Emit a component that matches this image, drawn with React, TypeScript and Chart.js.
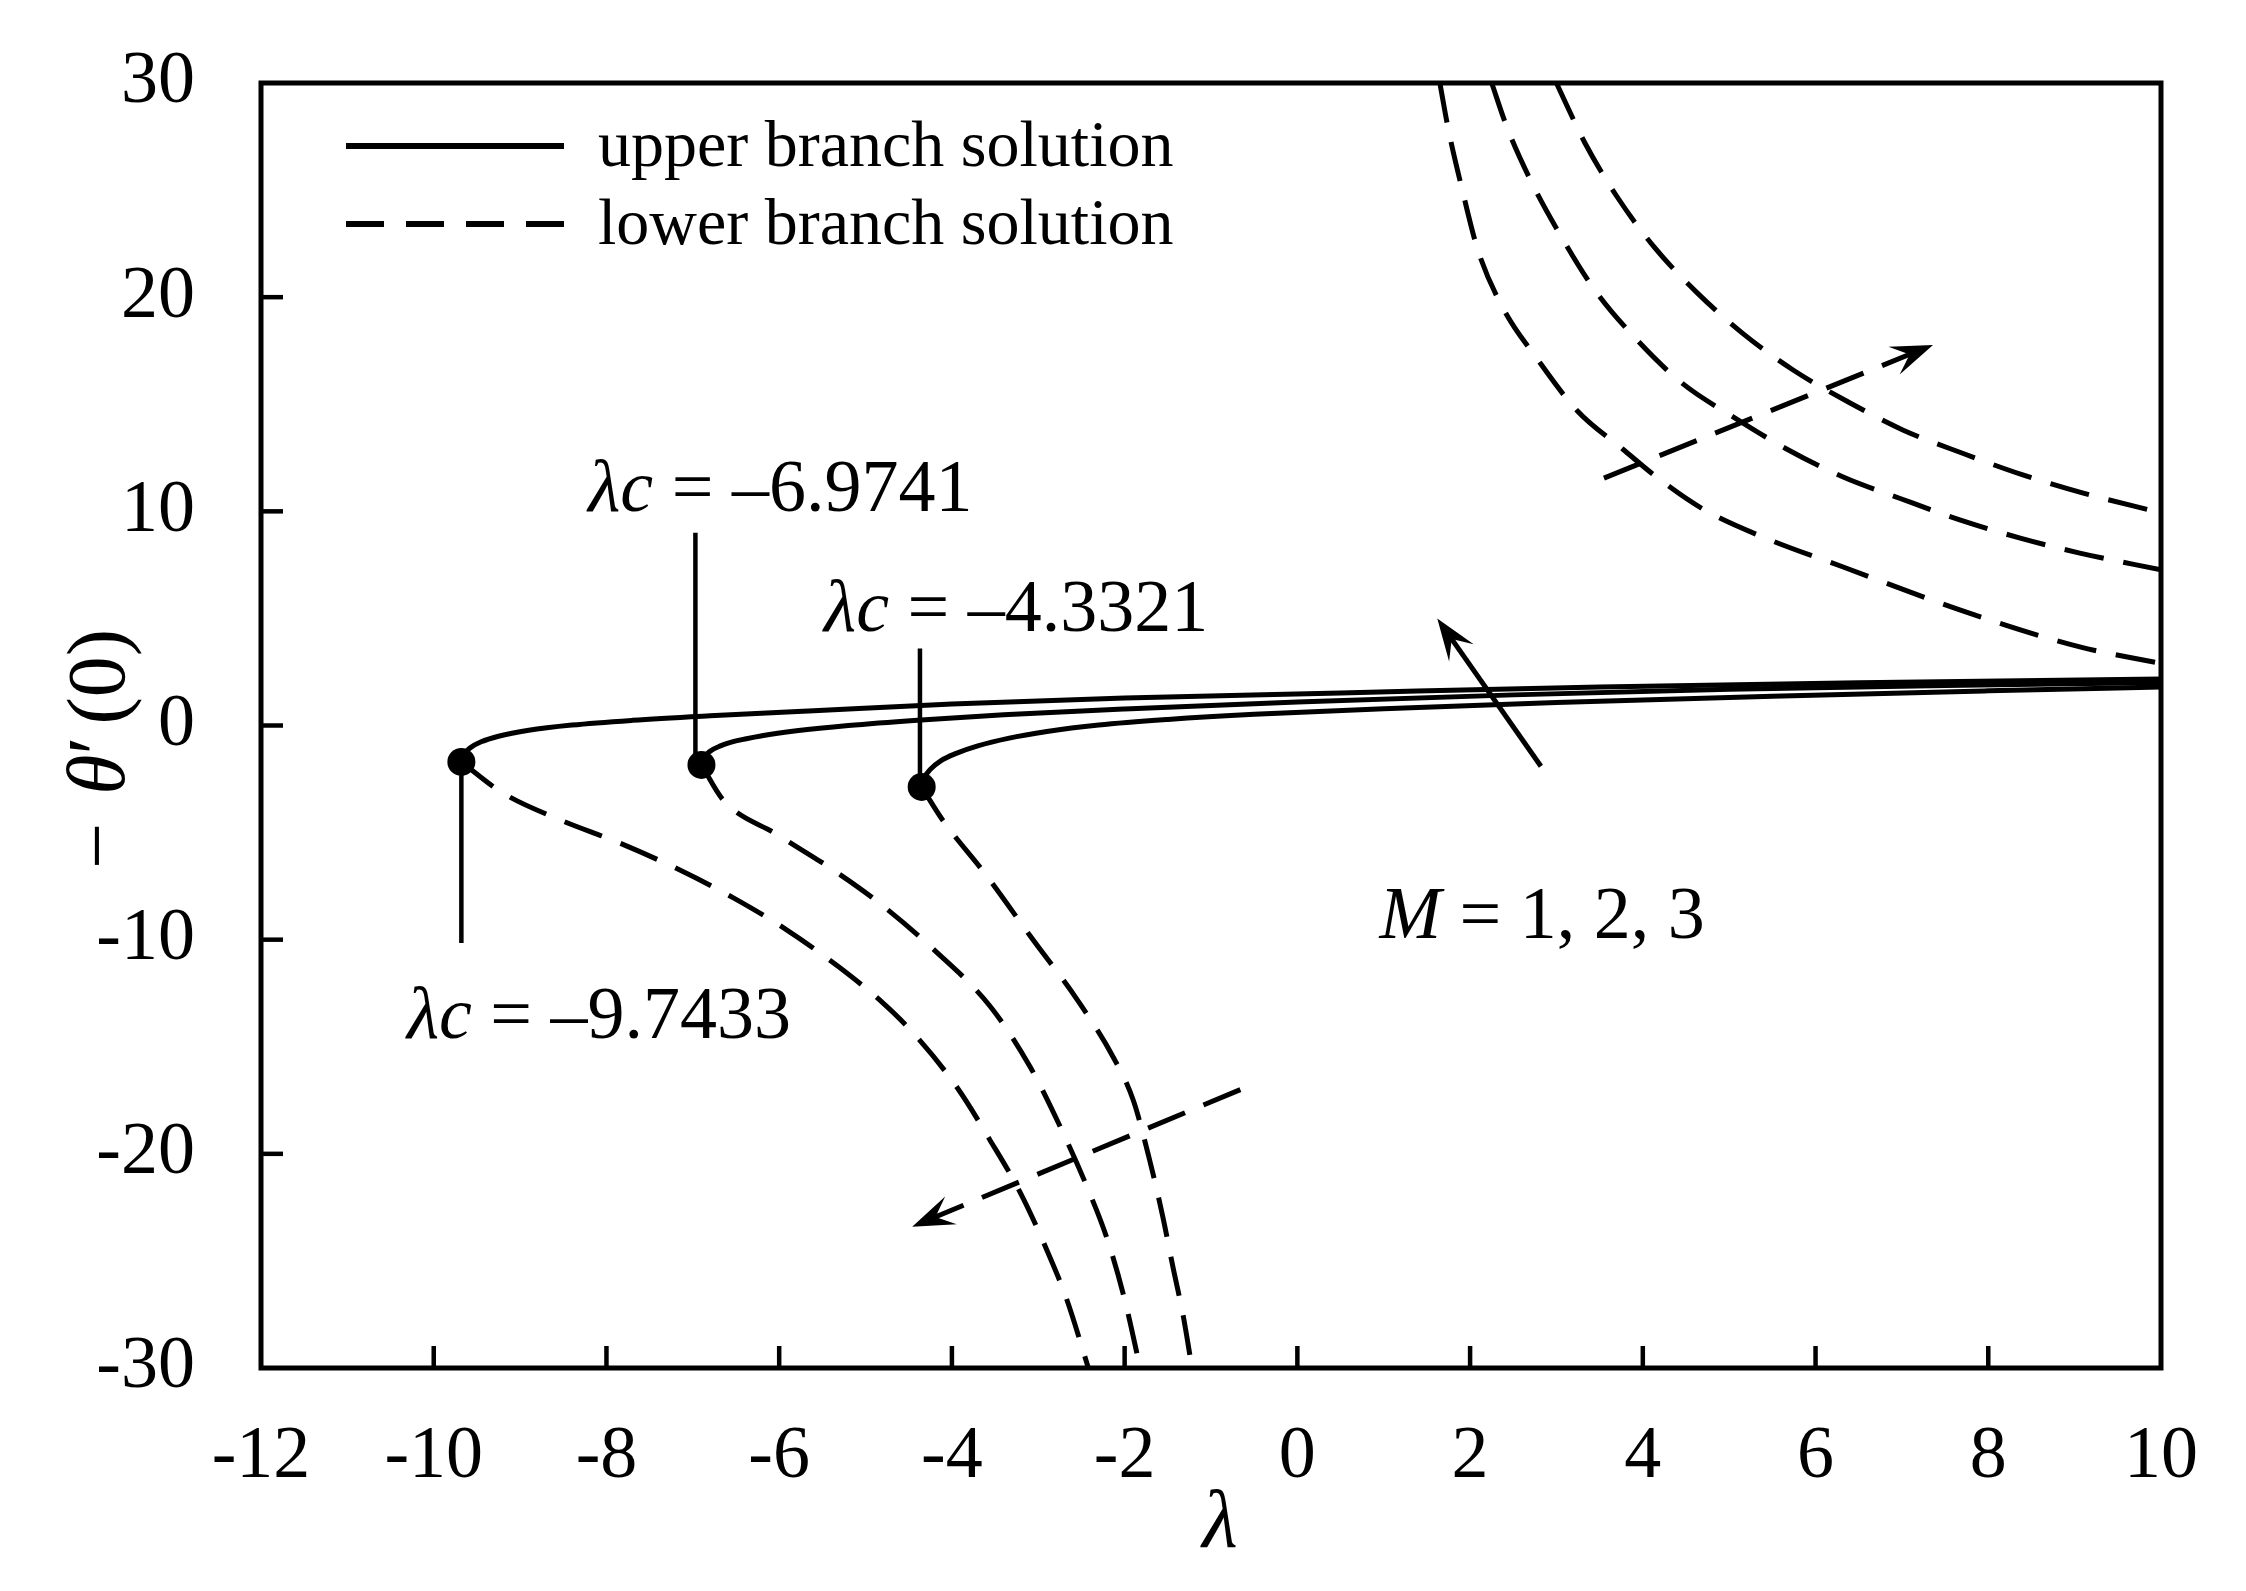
import React, { useEffect, useRef } from 'react';
import { Chart, registerables } from 'chart.js';

Chart.register(...registerables);

// ---- tick labels ----
const xTickValues = [-12, -10, -8, -6, -4, -2, 0, 2, 4, 6, 8, 10];
const yTickValues = [-30, -20, -10, 0, 10, 20, 30];

// ---- upper branch solutions (solid) ----
const upperM1X = [-4.35, -4.32, -4.25, -4.13, -3.95, -3.7, -3.35, -2.9, -2.3, -1.5, -0.5, 1, 3, 5.5, 8, 10];
const upperM1Y = [-2.87, -2.45, -2.05, -1.65, -1.3, -0.95, -0.6, -0.28, 0.02, 0.28, 0.52, 0.78, 1.07, 1.37, 1.62, 1.8];

const upperM2X = [-6.9, -6.87, -6.8, -6.68, -6.5, -6.2, -5.8, -5.2, -4.4, -3.4, -2, 0, 2.5, 5, 7.5, 10];
const upperM2Y = [-1.84, -1.5, -1.2, -0.95, -0.72, -0.48, -0.25, 0.0, 0.25, 0.5, 0.77, 1.1, 1.43, 1.69, 1.87, 2.0];

const upperM3X = [-9.68, -9.65, -9.58, -9.45, -9.25, -8.9, -8.4, -7.7, -6.8, -5.6, -4, -2, 0.5, 3.5, 6.5, 10];
const upperM3Y = [-1.7, -1.35, -1.05, -0.76, -0.5, -0.22, 0.02, 0.24, 0.45, 0.69, 1.0, 1.28, 1.52, 1.8, 2.0, 2.17];

// ---- lower branch solutions (dashed), negative lambda part ----
const lowerM1X = [-4.35, -4.11, -3.62, -3.08, -2.55, -2.13, -1.9, -1.71, -1.56, -1.44, -1.32, -1.22];
const lowerM1Y = [-2.87, -4.4, -6.9, -9.9, -12.8, -15.5, -17.5, -20.3, -22.9, -25.3, -27.6, -30];

const lowerM2X = [-6.9, -6.65, -6.02, -5.41, -4.87, -4.2, -3.56, -3.1, -2.75, -2.44, -2.2, -2.0, -1.82];
const lowerM2Y = [-1.84, -3.47, -5.1, -6.65, -8.2, -10.5, -13.1, -15.9, -18.7, -21.5, -24.0, -26.8, -30];

const lowerM3X = [-9.68, -9.2, -8.54, -7.84, -7.15, -6.53, -5.91, -5.3, -4.8, -4.45, -3.94, -3.56, -3.21, -2.9, -2.67, -2.42];
const lowerM3Y = [-1.7, -3.15, -4.4, -5.5, -6.75, -8.05, -9.55, -11.3, -12.95, -14.35, -16.9, -19.35, -21.8, -24.5, -26.8, -30];

// ---- lower branch solutions (dashed), positive lambda part ----
const posM1X = [1.65, 1.75, 1.91, 2.09, 2.38, 2.78, 3.24, 3.77, 4.16, 4.7, 5.39, 6.32, 7.67, 9.06, 10];
const posM1Y = [30, 27.8, 25.0, 22.2, 19.5, 17.1, 14.7, 12.9, 11.6, 10.1, 8.8, 7.4, 5.4, 3.67, 2.9];

const posM2X = [2.25, 2.43, 2.72, 3.06, 3.45, 3.91, 4.45, 5.05, 5.67, 6.32, 6.98, 7.67, 8.37, 9.06, 10];
const posM2Y = [30, 27.9, 25.3, 22.8, 20.3, 18.1, 16.0, 14.4, 12.9, 11.6, 10.6, 9.6, 8.75, 8.05, 7.27];

const posM3X = [3.0, 3.08, 3.33, 3.7, 4.14, 4.63, 5.16, 5.74, 6.4, 7.01, 7.71, 8.4, 9.1, 10];
const posM3Y = [30, 29.3, 27.2, 24.7, 22.3, 20.2, 18.3, 16.6, 15.06, 13.8, 12.7, 11.7, 10.85, 9.93];

// ---- critical points ----
const criticalX = [-9.68, -6.9, -4.35];
const criticalY = [-1.7, -1.84, -2.87];
const criticalLabels = ['–9.7433', '–6.9741', '–4.3321'];

// ---- leader lines (data coords) ----
const leaderX = [-9.68, -6.97, -4.37];
const leaderYFrom = [-1.7, 9.0, 3.6];
const leaderYTo = [-10.15, -1.84, -2.87];

// ---- label anchors (left x, baseline y) in data coords ----
const labelAnchorX = [-10.31, -8.21, -5.48];
const labelAnchorY = [-14.58, 10.02, 4.42];
const mLabel = 'M';
const mValues = ' = 1, 2, 3';
const mAnchor = [0.95, -9.92];

// ---- arrows (data coords): [x1, y1, x2, y2] ----
const arrowSolid = [2.82, -1.9, 1.62, 5.0];
const arrowUpRight = [3.55, 11.55, 7.36, 17.77];
const arrowDownLeft = [-0.66, -17.0, -4.46, -23.4];

const legendLabels = ['upper branch solution', 'lower branch solution'];

const FONT = '"Liberation Serif", "Times New Roman", serif';
const DASH = [40, 20];

function pts(xs: number[], ys: number[]) {
  return xs.map((x, i) => ({ x, y: ys[i] }));
}

function lineDs(xs: number[], ys: number[], dashed: boolean) {
  return {
    data: pts(xs, ys),
    borderColor: '#000',
    backgroundColor: '#000',
    borderWidth: 5,
    borderDash: dashed ? DASH : [],
    pointRadius: 0,
    cubicInterpolationMode: 'monotone',
    fill: false,
    showLine: true,
  };
}

function drawRich(ctx: CanvasRenderingContext2D, parts: { t: string; it: boolean; gap?: number }[], x: number, y: number, size: number) {
  let cx = x;
  for (const p of parts) {
    cx += p.gap || 0;
    ctx.font = `${p.it ? 'italic ' : ''}${size}px ${FONT}`;
    ctx.fillText(p.t, cx, y);
    cx += ctx.measureText(p.t).width;
  }
}

function drawArrow(ctx: CanvasRenderingContext2D, x1: number, y1: number, x2: number, y2: number, dashed: boolean) {
  const dx = x2 - x1, dy = y2 - y1;
  const len = Math.hypot(dx, dy);
  const ux = dx / len, uy = dy / len;
  const nx = -uy, ny = ux;
  const headLen = 42, w = 15;
  ctx.save();
  ctx.strokeStyle = '#000';
  ctx.fillStyle = '#000';
  ctx.lineWidth = 5;
  ctx.setLineDash(dashed ? DASH : []);
  ctx.beginPath();
  ctx.moveTo(x1, y1);
  ctx.lineTo(x2 - ux * headLen * 0.5, y2 - uy * headLen * 0.5);
  ctx.stroke();
  ctx.setLineDash([]);
  ctx.beginPath();
  ctx.moveTo(x2, y2);
  ctx.lineTo(x2 - ux * headLen + nx * w, y2 - uy * headLen + ny * w);
  ctx.lineTo(x2 - ux * headLen * 0.6, y2 - uy * headLen * 0.6);
  ctx.lineTo(x2 - ux * headLen - nx * w, y2 - uy * headLen - ny * w);
  ctx.closePath();
  ctx.fill();
  ctx.restore();
}

const decorPlugin = {
  id: 'decor',
  afterDatasetsDraw(chart: any) {
    const { ctx, chartArea: ca, scales } = chart;
    const xs = scales.x, ys = scales.y;
    const px = (v: number) => xs.getPixelForValue(v);
    const py = (v: number) => ys.getPixelForValue(v);
    ctx.save();
    ctx.strokeStyle = '#000';
    ctx.fillStyle = '#000';

    // frame
    ctx.lineWidth = 5;
    ctx.setLineDash([]);
    ctx.strokeRect(ca.left, ca.top, ca.right - ca.left, ca.bottom - ca.top);

    // inward ticks
    ctx.lineWidth = 4.5;
    const tl = 22;
    xTickValues.slice(1, -1).forEach((v) => {
      ctx.beginPath();
      ctx.moveTo(px(v), ca.bottom);
      ctx.lineTo(px(v), ca.bottom - tl);
      ctx.stroke();
    });
    yTickValues.slice(1, -1).forEach((v) => {
      ctx.beginPath();
      ctx.moveTo(ca.left, py(v));
      ctx.lineTo(ca.left + tl, py(v));
      ctx.stroke();
    });

    // leader lines
    ctx.lineWidth = 4.5;
    leaderX.forEach((lx, i) => {
      ctx.beginPath();
      ctx.moveTo(px(lx), py(leaderYFrom[i]));
      ctx.lineTo(px(lx), py(leaderYTo[i]));
      ctx.stroke();
    });

    // arrows
    drawArrow(ctx, px(arrowSolid[0]), py(arrowSolid[1]), px(arrowSolid[2]), py(arrowSolid[3]), false);
    drawArrow(ctx, px(arrowUpRight[0]), py(arrowUpRight[1]), px(arrowUpRight[2]), py(arrowUpRight[3]), true);
    drawArrow(ctx, px(arrowDownLeft[0]), py(arrowDownLeft[1]), px(arrowDownLeft[2]), py(arrowDownLeft[3]), true);

    // critical labels
    ctx.textAlign = 'left';
    ctx.textBaseline = 'alphabetic';
    criticalLabels.forEach((lab, i) => {
      drawRich(ctx, [{ t: 'λc', it: true }, { t: ' = ' + lab, it: false }], px(labelAnchorX[i]), py(labelAnchorY[i]), 74);
    });
    drawRich(ctx, [{ t: mLabel, it: true }, { t: mValues, it: false }], px(mAnchor[0]), py(mAnchor[1]), 74);

    // legend
    const lx0 = ca.left + 85, lx1 = ca.left + 303;
    const ly0 = ca.top + 63, ly1 = ca.top + 141;
    ctx.lineWidth = 6;
    ctx.beginPath();
    ctx.moveTo(lx0, ly0);
    ctx.lineTo(lx1, ly0);
    ctx.stroke();
    ctx.setLineDash([38, 22]);
    ctx.beginPath();
    ctx.moveTo(lx0, ly1);
    ctx.lineTo(lx1, ly1);
    ctx.stroke();
    ctx.setLineDash([]);
    ctx.font = `66px ${FONT}`;
    ctx.fillText(legendLabels[0], ca.left + 337, ly0 + 20);
    ctx.fillText(legendLabels[1], ca.left + 337, ly1 + 20);

    // axis titles
    ctx.textAlign = 'center';
    ctx.textBaseline = 'middle';
    ctx.font = `italic 82px ${FONT}`;
    ctx.fillText('λ', (ca.left + ca.right) / 2 + 9, 1525);

    ctx.translate(102, 869);
    ctx.rotate(-Math.PI / 2);
    ctx.textAlign = 'left';
    drawRich(ctx, [
      { t: '−', it: false },
      { t: 'θ', it: true, gap: 28 },
      { t: '′', it: false },
      { t: '(0)', it: false, gap: 12 },
    ], 0, 0, 82);
    ctx.restore();
  },
};

export default function App() {
  const ref = useRef<HTMLCanvasElement | null>(null);
  useEffect(() => {
    document.body.style.margin = '0';
    const canvas = ref.current;
    if (!canvas) return;
    const tickFont = { family: FONT, size: 74 };
    const chart = new Chart(canvas, {
      type: 'line',
      data: {
        datasets: [
          lineDs(upperM1X, upperM1Y, false),
          lineDs(upperM2X, upperM2Y, false),
          lineDs(upperM3X, upperM3Y, false),
          lineDs(lowerM1X, lowerM1Y, true),
          lineDs(lowerM2X, lowerM2Y, true),
          lineDs(lowerM3X, lowerM3Y, true),
          lineDs(posM1X, posM1Y, true),
          lineDs(posM2X, posM2Y, true),
          lineDs(posM3X, posM3Y, true),
          {
            data: pts(criticalX, criticalY),
            showLine: false,
            pointRadius: 14,
            pointBackgroundColor: '#000',
            pointBorderColor: '#000',
            pointBorderWidth: 0,
            borderColor: '#000',
            backgroundColor: '#000',
          },
        ] as any,
      },
      options: {
        responsive: false,
        animation: false,
        devicePixelRatio: 1,
        events: [],
        layout: { padding: { top: 83, right: 85, left: 0, bottom: 0 } },
        plugins: { legend: { display: false }, tooltip: { enabled: false }, title: { display: false } },
        scales: {
          x: {
            type: 'linear',
            min: -12,
            max: 10,
            afterBuildTicks: (s: any) => { s.ticks = xTickValues.map((v) => ({ value: v })); },
            afterFit: (s: any) => { s.height = 223; s.paddingLeft = 0; s.paddingRight = 0; },
            ticks: { font: tickFont, color: '#000', padding: 45, maxRotation: 0, autoSkip: false, callback: (v: any) => String(v) },
            grid: { display: false, drawTicks: false },
            border: { display: false },
          },
          y: {
            type: 'linear',
            min: -30,
            max: 30,
            afterBuildTicks: (s: any) => { s.ticks = yTickValues.map((v) => ({ value: v })); },
            afterFit: (s: any) => { s.width = 261; s.paddingTop = 0; s.paddingBottom = 0; },
            ticks: { font: tickFont, color: '#000', padding: 66, autoSkip: false, callback: (v: any) => String(v) },
            grid: { display: false, drawTicks: false },
            border: { display: false },
          },
        },
      } as any,
      plugins: [decorPlugin],
    });
    return () => chart.destroy();
  }, []);
  return (
    <div style={{ width: 2246, height: 1591, background: '#fff' }}>
      <canvas ref={ref} width={2246} height={1591} style={{ display: 'block', width: 2246, height: 1591 }} />
    </div>
  );
}
